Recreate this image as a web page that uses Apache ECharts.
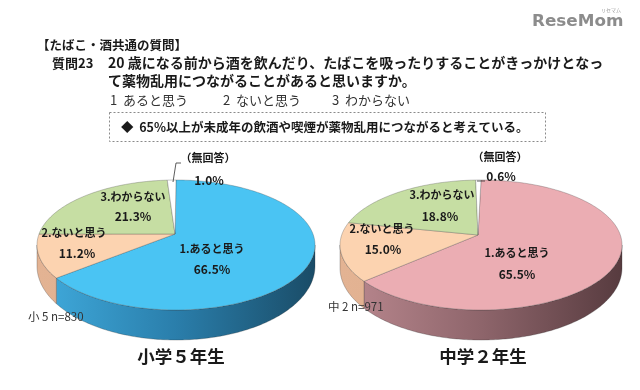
<!DOCTYPE html>
<html>
<head>
<meta charset="utf-8">
<script src="https://cdn.jsdelivr.net/npm/echarts@6/dist/echarts.min.js"></script>
<style>
html,body{margin:0;padding:0;background:#fff;}
#chart{width:640px;height:390px;}
</style>
</head>
<body>
<div id="chart"></div>
<script>
// ---- data ----
const categories = ['1.あると思う', '2.ないと思う', '3.わからない', '（無回答）'];
const grade5Values = [66.5, 11.2, 21.3, 1.0];
const grade8Values = [65.5, 15.0, 18.8, 0.6];
const pieTitles = ['小学５年生', '中学２年生'];
const sampleNotes = ['小 5 n=830', '中 2 n=971'];
const headerTitle = '【たばこ・酒共通の質問】';
const questionNo = '質問23';
const questionLines = ['20 歳になる前から酒を飲んだり、たばこを吸ったりすることがきっかけとなっ', 'て薬物乱用につながることがあると思いますか。'];
const choiceLabels = ['1  あると思う', '2  ないと思う', '3  わからない'];
const summaryText = '◆  65%以上が未成年の飲酒や喫煙が薬物乱用につながると考えている。';

// ---- layout / style ----
const FONT = '"Noto Sans CJK JP", "Noto Sans", sans-serif';
const PIES = [
  {cx: 176, cy: 245, rx: 139, ry: 65, ax: 175, ay: 234, cyOff: 21, ryOff: 9},
  {cx: 481, cy: 245, rx: 141, ry: 65, ax: 478, ay: 235, cyOff: 23, ryOff: 7}
];
const TOP_COLORS = [
  ['#4ac4f3', '#fcd3b0', '#c6dea3', '#ffffff'],
  ['#ebadb3', '#fcd3b0', '#c6dea3', '#ffffff']
];
const SIDE_STOPS = [
  [['#40abdd', '#2a7eab', '#1a4c67'], ['#e3b393', '#d9a787'], ['#b7cf94', '#a9c287'], ['#eeeeee', '#dddddd']],
  [['#bb8990', '#8e656b', '#573b3f'], ['#e3b393', '#d9a787'], ['#b7cf94', '#a9c287'], ['#eeeeee', '#dddddd']]
];
// label anchor [nameX, nameY, valueX, valueY] per slice
const LABEL_POS = [
  [[212, 249, 212, 269], [74, 233, 77, 253], [133, 197, 133, 216], [208, 158, 209, 180]],
  [[517, 253, 517, 274], [382, 229, 383, 249], [442, 195, 440, 216], [500, 157, 501, 176]]
];
const LEADERS = [
  [[173, 182], [176, 163], [181, 163]],
  [[477, 181], [485, 181]]
];
const NOTE_POS = [[28, 317], [328, 307]];
const TITLE_POS = [[181, 356], [483, 356]];

function ellPt(p, t, bottom) {
  const a = t * Math.PI / 180;
  const cy = bottom ? p.cy + p.cyOff : p.cy;
  const ry = bottom ? p.ry + p.ryOff : p.ry;
  return [p.cx + p.rx * Math.sin(a), cy - ry * Math.cos(a)];
}

function makeSeries(k, values) {
  const total = values.reduce((a, b) => a + b, 0);
  let cum = 0;
  const data = values.map((v, i) => { const d = [cum, v, i, total]; cum += v; return d; });
  return {
    type: 'custom',
    coordinateSystem: 'none',
    silent: true,
    z: 2,
    data: data,
    renderItem: function (params, api) {
      const start = api.value(0), val = api.value(1), idx = api.value(2), tot = api.value(3);
      const p = PIES[k];
      const t0 = start / tot * 360, t1 = (start + val) / tot * 360;
      const children = [];
      // side (front half only)
      const s0 = Math.max(t0, 90), s1 = Math.min(t1, 270);
      if (s1 > s0) {
        const pts = [];
        for (let t = s0; t < s1; t += 1) pts.push(ellPt(p, t));
        pts.push(ellPt(p, s1));
        pts.push(ellPt(p, s1, true));
        for (let t = s1; t > s0; t -= 1) pts.push(ellPt(p, t, true));
        pts.push(ellPt(p, s0, true));
        const stops = SIDE_STOPS[k][idx];
        const cs = stops.map((c, j) => ({offset: j / (stops.length - 1), color: c}));
        children.push({
          type: 'polygon', z2: 1,
          shape: {points: pts},
          style: {
            fill: new echarts.graphic.LinearGradient(p.cx - p.rx, 0, p.cx + p.rx, 0, cs, true),
            stroke: 'rgba(40,40,40,0.45)', lineWidth: 0.6
          }
        });
      }
      // top face
      const top = [[p.ax, p.ay]];
      for (let t = t0; t < t1; t += 1) top.push(ellPt(p, t));
      top.push(ellPt(p, t1));
      children.push({
        type: 'polygon', z2: 5,
        shape: {points: top},
        style: {fill: TOP_COLORS[k][idx], stroke: 'rgba(70,70,70,0.5)', lineWidth: 0.6}
      });
      // labels
      const lp = LABEL_POS[k][idx];
      children.push({
        type: 'text', z2: 20,
        style: {text: categories[idx], x: lp[0], y: lp[1], align: 'center', verticalAlign: 'middle',
          font: 'bold 11px ' + FONT, fill: '#1a1a1a'}
      });
      children.push({
        type: 'text', z2: 20,
        style: {text: val.toFixed(1) + '%', x: lp[2], y: lp[3], align: 'center', verticalAlign: 'middle',
          font: 'bold 12px ' + FONT, fill: '#1a1a1a'}
      });
      if (idx === values.length - 1) {
        children.push({
          type: 'polyline', z2: 20,
          shape: {points: LEADERS[k]},
          style: {stroke: '#333', lineWidth: 0.8, fill: null}
        });
      }
      return {type: 'group', children: children};
    }
  };
}

const graphics = [];
function txt(text, x, y, font, opts) {
  graphics.push(Object.assign({
    type: 'text', x: x, y: y, z: 100,
    style: Object.assign({text: text, font: font, fill: '#1a1a1a', verticalAlign: 'middle'}, (opts && opts.style) || {})
  }, (opts && opts.el) || {}));
}
txt(headerTitle, 37, 45, 'bold 12.5px ' + FONT);
txt(questionNo, 52, 63, 'bold 13px ' + FONT);
txt(questionLines[0], 108, 63, 'bold 14px ' + FONT);
txt(questionLines[1], 108, 81, 'bold 14px ' + FONT);
const choiceX = [110, 223, 332];
choiceLabels.forEach((c, i) => txt(c, choiceX[i], 100, '13px ' + FONT, {style: {fill: '#333'}}));
graphics.push({
  type: 'rect', z: 100, shape: {x: 109.5, y: 112.5, width: 436, height: 29},
  style: {fill: null, stroke: '#8a8a8a', lineWidth: 1, lineDash: [2, 2]}
});
txt(summaryText, 121, 127, 'bold 12.5px ' + FONT);
sampleNotes.forEach((n, i) => txt(n, NOTE_POS[i][0], NOTE_POS[i][1], '11.5px ' + FONT, {style: {fill: '#333'}}));
pieTitles.forEach((t, i) => txt(t, TITLE_POS[i][0], TITLE_POS[i][1], 'bold 17.5px ' + FONT, {style: {align: 'center'}}));
// logo
txt('ReseMom', 532, 22, 'bold 15px "DejaVu Sans", sans-serif', {style: {fill: '#8c8c8c'}, el: {scaleX: 1.12, originX: 0, originY: 0}});
txt('リセマム', 601, 10, '5px ' + FONT, {style: {fill: '#999'}});

const chart = echarts.init(document.getElementById('chart'), null, {renderer: 'canvas'});
chart.setOption({
  backgroundColor: '#ffffff',
  animation: false,
  series: [makeSeries(0, grade5Values), makeSeries(1, grade8Values)],
  graphic: graphics
});
</script>
</body>
</html>
